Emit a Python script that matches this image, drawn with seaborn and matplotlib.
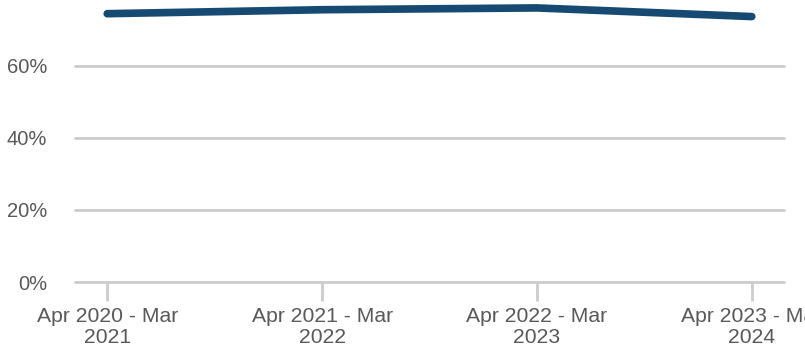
import matplotlib
matplotlib.use("Agg")
import matplotlib.pyplot as plt
import seaborn as sns
import pandas as pd
from matplotlib.ticker import FuncFormatter

periods = ["Apr 2020 - Mar\n2021", "Apr 2021 - Mar\n2022", "Apr 2022 - Mar\n2023", "Apr 2023 - Mar\n2024"]
values = [74.5, 75.6, 76.1, 73.7]
yticks = [0, 20, 40, 60]

sns.set_theme(style="white")
plt.rcParams['font.family'] = ['Liberation Sans', 'DejaVu Sans']

df = pd.DataFrame({"x": range(len(periods)), "v": values})

fig = plt.figure(figsize=(8.05, 3.5), dpi=100)
ax = fig.add_axes([75/805, 68/350, (784-75)/805, 282/350])

for t in yticks:
    ax.axhline(t, color="#cccccc", lw=2, zorder=0, clip_on=False)

sns.lineplot(data=df, x="x", y="v", ax=ax, color="#174a72", lw=5.5, zorder=3)

ax.set_xlim(-0.15, 3.15)
ax.set_ylim(0, 78.3)
ax.set_yticks(yticks)
ax.yaxis.set_major_formatter(FuncFormatter(lambda v, p: f"{int(v)}%"))
ax.set_xticks(range(len(periods)))
ax.set_xticklabels(periods)
for s in ax.spines.values():
    s.set_visible(False)
ax.set_xlabel("")
ax.set_ylabel("")
ax.tick_params(axis="y", left=False, length=0, pad=20, labelsize=14.5, labelcolor="#595959")
ax.tick_params(axis="x", bottom=True, direction="out", length=14, width=2, color="#cccccc", pad=4,
               labelsize=15.2, labelcolor="#595959")
for lab in ax.get_xticklabels():
    lab.set_linespacing(1.15)
    lab.set_clip_on(False)

fig.savefig("out.png", dpi=100)
